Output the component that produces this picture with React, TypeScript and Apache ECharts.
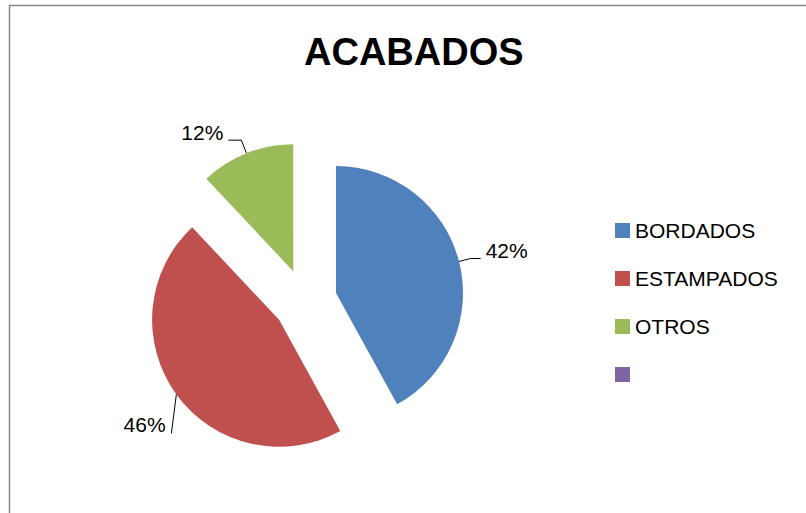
import React, { useEffect, useRef } from "react";
import * as echarts from "echarts";

const title = "ACABADOS";
const categories = ["BORDADOS", "ESTAMPADOS", "OTROS", " "];
const values = [42, 46, 12, 0];
const colors = ["#4F81BD", "#C0504D", "#9BBB59", "#8064A2"];

const FONT = "'Liberation Sans', Arial, sans-serif";

export default function App() {
  const ref = useRef<HTMLDivElement>(null);
  useEffect(() => {
    if (!ref.current) return;
    const chart = echarts.init(ref.current, null, { renderer: "svg" });
    const labelCfg = [
      { length: 12, length2: 10 },
      { length: 64, length2: -46 },
      { length: 14, length2: 13 },
    ];
    const data = categories.map((name, i) => {
      const item: any = {
        name,
        value: values[i],
        itemStyle: { color: colors[i] },
        selected: values[i] > 0,
      };
      if (values[i] > 0) {
        const c = labelCfg[i];
        item.labelLine = { length: c.length, length2: c.length2 };
      } else {
        item.label = { show: false };
        item.labelLine = { show: false };
      }
      return item;
    });
    chart.setOption({
      animation: false,
      backgroundColor: "#ffffff",
      title: {
        text: title,
        left: 299,
        top: 28,
        textStyle: { fontFamily: FONT, fontSize: 38, fontWeight: "bold", color: "#000" },
      },
      graphic: [
        {
          type: "rect",
          shape: { x: 9.5, y: 5.5, width: 820, height: 540 },
          style: { fill: "none", stroke: "#8a8a8a", lineWidth: 1.5 },
          silent: true,
        },
      ],
      legend: {
        orient: "vertical",
        left: 615,
        top: 220,
        padding: 0,
        itemWidth: 15,
        itemHeight: 15,
        itemGap: 27,
        icon: "rect",
        selectedMode: false,
        textStyle: { fontFamily: FONT, fontSize: 21, color: "#000" },
        data: categories,
      },
      series: [
        {
          type: "pie",
          center: [305, 301],
          radius: 127,
          startAngle: 90,
          clockwise: true,
          selectedMode: "multiple",
          selectedOffset: 32,
          avoidLabelOverlap: false,
          label: {
            show: true,
            position: "outside",
            fontFamily: FONT,
            fontSize: 21,
            lineHeight: 16,
            color: "#000",
            distanceToLabelLine: 5,
            formatter: (p: any) => `${Math.round(p.percent)}%`,
          },
          labelLine: {
            show: true,
            lineStyle: { color: "#000", width: 1 },
          },
          labelLayout: (params: any) => {
            if (params.dataIndex === 1 && params.labelLinePoints) {
              const p0 = params.labelLinePoints[0];
              return {
                verticalAlign: "bottom",
                labelLinePoints: [p0, [p0[0] - 5, p0[1] + 39]],
              };
            }
            return { verticalAlign: "bottom" };
          },
          emphasis: { disabled: true },
          data,
        },
      ],
    });
    return () => chart.dispose();
  }, []);
  return (
    <div
      ref={ref}
      style={{ position: "absolute", left: 0, top: 0, width: 806, height: 513 }}
    />
  );
}
